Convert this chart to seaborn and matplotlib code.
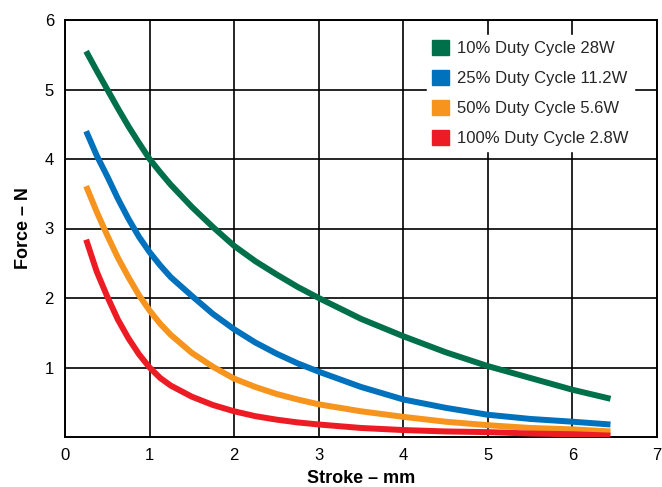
import numpy as np
import pandas as pd
import matplotlib
matplotlib.use("Agg")
import matplotlib.pyplot as plt
import seaborn as sns
from matplotlib.patches import Patch

stroke = [0.25, 0.375, 0.5, 0.625, 0.75, 0.875, 1.0, 1.125, 1.25, 1.5, 1.75, 2.0,
          2.25, 2.5, 2.75, 3.0, 3.5, 4.0, 4.5, 5.0, 5.5, 6.0, 6.45]
force_10 = [5.55, 5.27, 5.0, 4.73, 4.47, 4.23, 4.0, 3.81, 3.63, 3.31, 3.02, 2.75,
            2.53, 2.34, 2.16, 2.0, 1.7, 1.45, 1.22, 1.02, 0.85, 0.68, 0.55]
force_25 = [4.40, 4.05, 3.75, 3.43, 3.14, 2.88, 2.66, 2.47, 2.30, 2.03, 1.77, 1.55,
            1.36, 1.2, 1.06, 0.94, 0.72, 0.54, 0.42, 0.32, 0.26, 0.22, 0.18]
force_50 = [3.61, 3.24, 2.90, 2.58, 2.30, 2.04, 1.82, 1.63, 1.47, 1.21, 1.01, 0.84,
            0.72, 0.62, 0.54, 0.47, 0.37, 0.29, 0.22, 0.17, 0.13, 0.11, 0.08]
force_100 = [2.84, 2.38, 2.02, 1.69, 1.42, 1.19, 1.0, 0.85, 0.74, 0.58, 0.46, 0.37,
             0.30, 0.25, 0.21, 0.18, 0.13, 0.10, 0.08, 0.07, 0.05, 0.04, 0.02]

labels = ["10% Duty Cycle 28W", "25% Duty Cycle 11.2W", "50% Duty Cycle 5.6W", "100% Duty Cycle 2.8W"]
colors = ["#00704A", "#0071BC", "#F7941D", "#ED1C24"]
x_ticks = [0, 1, 2, 3, 4, 5, 6, 7]
y_ticks = [1, 2, 3, 4, 5, 6]
y_tick_labels = ["1", "2", "3", "4", "5", "6"]

series = [force_10, force_25, force_50, force_100]
df = pd.concat(
    [pd.DataFrame({"Stroke": stroke, "Force": vals, "Series": lab}) for vals, lab in zip(series, labels)],
    ignore_index=True,
)

sns.set_theme(style="white")
plt.rcParams["font.family"] = ["Liberation Sans", "DejaVu Sans"]

fig = plt.figure(figsize=(6.62, 4.87), dpi=100)
ax = fig.add_axes([65 / 662, 50 / 487, 592 / 662, 417 / 487])

sns.lineplot(data=df, x="Stroke", y="Force", hue="Series", hue_order=labels,
             palette=colors, linewidth=4.3, ax=ax, legend=False, sort=True)
for line in ax.lines:
    line.set_solid_capstyle("butt")
    line.set_solid_joinstyle("round")
    line.set_zorder(3)

ax.set_xlim(0, 7)
ax.set_ylim(0, 6)
ax.set_xticks(x_ticks)
ax.set_yticks(y_ticks)
ax.set_yticklabels(y_tick_labels)
ax.tick_params(axis="both", length=0, labelsize=12, colors="black", pad=8)
ax.grid(True, color="black", linewidth=1.2, zorder=1)
ax.set_axisbelow(True)
for sp in ax.spines.values():
    sp.set_color("black")
    sp.set_linewidth(1.4)

ax.set_xlabel("Stroke – mm", fontsize=13, fontweight="bold", color="black", labelpad=5)
ax.set_ylabel("Force – N", fontsize=13, fontweight="bold", color="black", labelpad=9)

handles = [Patch(facecolor=c, edgecolor=c, label=l) for c, l in zip(colors, labels)]
leg = ax.legend(handles=handles, loc="upper right", bbox_to_anchor=(0.975, 0.985),
                frameon=True, fancybox=False, framealpha=1, facecolor="white",
                edgecolor="white", fontsize=12, handlelength=1.0, handleheight=1.0,
                handletextpad=0.5, labelspacing=0.83, borderpad=0.3)
leg.set_zorder(5)

fig.savefig("out.png", dpi=100)
